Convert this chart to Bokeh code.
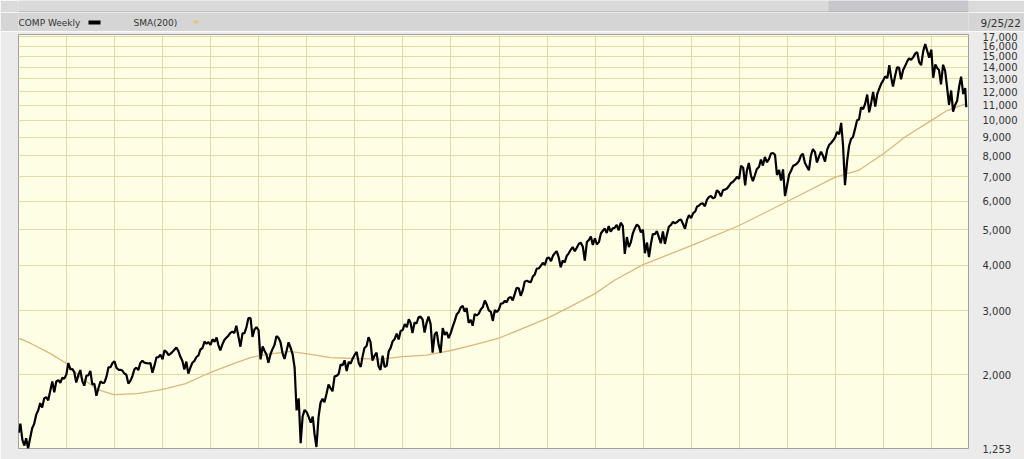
import pandas as pd
from bokeh.plotting import figure
from bokeh.layouts import column
from bokeh.models import FixedTicker, NumeralTickFormatter, Range1d
from bokeh.core.properties import value
from bokeh.embed import file_html
from bokeh.resources import INLINE

# ---------------- data ----------------
# COMP weekly, sampled twice a month: (mid-month, month-end) per month
comp_start = [1385]
comp_2003 = [1467, 1321, 1277, 1338, 1253, 1341, 1425, 1464, 1550, 1596, 1670, 1623,
             1720, 1735, 1700, 1810, 1915, 1787, 1915, 1932, 1900, 1960, 1950, 2003]
comp_2004 = [2153, 2066, 2073, 2030, 1902, 1994, 2059, 1920, 1865, 1987, 1990, 2048,
             1880, 1887, 1750, 1838, 1915, 1897, 1900, 1975, 2095, 2097, 2150, 2175]
comp_2005 = [2087, 2062, 2062, 2052, 2016, 1999, 1890, 1922, 1976, 2068, 2090, 2057,
             2153, 2185, 2157, 2152, 2146, 2152, 2025, 2120, 2232, 2233, 2270, 2205]
comp_2006 = [2333, 2306, 2262, 2281, 2306, 2340, 2375, 2323, 2243, 2179, 2065, 2172,
             2012, 2092, 2157, 2184, 2236, 2258, 2345, 2367, 2465, 2432, 2457, 2415]
comp_2007 = [2502, 2464, 2531, 2416, 2331, 2422, 2491, 2525, 2558, 2605, 2627, 2603,
             2724, 2546, 2387, 2596, 2602, 2702, 2861, 2859, 2540, 2661, 2700, 2652]
comp_2008 = [2202, 2390, 2322, 2272, 2155, 2279, 2350, 2413, 2552, 2523, 2454, 2293,
             2210, 2326, 2453, 2368, 2273, 2092, 1595, 1721, 1295, 1536, 1600, 1577]
comp_2009 = [1530, 1476, 1534, 1378, 1265, 1529, 1674, 1717, 1680, 1774, 1880, 1835,
             1800, 1979, 1985, 2009, 2133, 2122, 2190, 2045, 2167, 2145, 2212, 2269]
comp_2010 = [2308, 2147, 2100, 2238, 2368, 2398, 2535, 2461, 2185, 2257, 2300, 2109,
             2061, 2255, 2100, 2114, 2315, 2369, 2468, 2507, 2592, 2498, 2637, 2653]
comp_2011 = [2755, 2700, 2840, 2782, 2603, 2781, 2764, 2874, 2887, 2835, 2610, 2774,
             2887, 2756, 2299, 2580, 2622, 2415, 2298, 2684, 2572, 2620, 2520, 2605]
comp_2012 = [2710, 2814, 2932, 2967, 3056, 3092, 2980, 3046, 2778, 2827, 2726, 2935,
             2909, 2940, 3021, 3067, 3197, 3116, 3005, 2977, 2810, 3010, 2972, 3020]
comp_2013 = [3135, 3142, 3193, 3160, 3249, 3268, 3200, 3329, 3465, 3456, 3294, 3403,
             3600, 3626, 3602, 3590, 3722, 3772, 3915, 3920, 3985, 4060, 4001, 4177]
comp_2014 = [4197, 4104, 4244, 4308, 4371, 4199, 3946, 4115, 4072, 4243, 4310, 4408,
             4485, 4370, 4465, 4580, 4610, 4493, 4117, 4631, 4688, 4792, 4547, 4736]
comp_2015 = [4560, 4635, 4893, 4964, 5042, 4901, 5120, 4941, 5048, 5070, 5164, 4987,
             5231, 5128, 4292, 4777, 4487, 4620, 4887, 5054, 5176, 5109, 4923, 5007]
comp_2016 = [4313, 4614, 4210, 4558, 4870, 4870, 4960, 4775, 4595, 4948, 4574, 4844,
             5100, 5162, 5260, 5213, 5250, 5312, 5340, 5189, 5034, 5324, 5487, 5383]
comp_2017 = [5550, 5615, 5800, 5825, 5900, 5912, 5805, 6048, 6150, 6199, 6110, 6140,
             6420, 6348, 6180, 6429, 6450, 6496, 6600, 6728, 6780, 6874, 6994, 6903]
comp_2018 = [7505, 7411, 6630, 7273, 7637, 7063, 6806, 7066, 7350, 7442, 7806, 7510,
             7933, 7672, 7820, 8110, 8133, 8046, 7077, 7306, 6830, 7331, 6190, 6635]
comp_2019 = [7085, 7282, 7500, 7533, 7600, 7729, 8000, 8095, 7650, 7453, 7292, 8006,
             8340, 8175, 7662, 7963, 8200, 7999, 7700, 8292, 8550, 8666, 8800, 8973]
comp_2020 = [9300, 9151, 9838, 8567, 6631, 7700, 8500, 8890, 9000, 9490, 10000, 10059,
             10850, 10745, 11100, 11775, 10520, 11168, 11965, 10912, 11800, 12199, 12600, 12888]
comp_2021 = [13200, 13071, 14175, 13192, 12397, 13247, 14000, 13963, 12970, 13749, 14100, 14504,
             14800, 14673, 14900, 15259, 15403, 14449, 14181, 15498, 16212, 15538, 14860, 15645]
comp_2022 = [13094, 14240, 13900, 13751, 12555, 14220, 13700, 12335, 11035, 12081, 10565, 11029,
             11300, 12391, 13181, 11816, 12270, 10868]

# 200-week simple moving average
sma_dates = ["2003-01-01", "2003-04-01", "2003-09-01", "2004-01-01", "2004-04-15",
             "2004-08-25", "2004-12-25", "2005-06-25", "2005-12-25", "2006-06-25",
             "2007-01-01", "2007-06-25", "2007-10-30", "2008-02-20", "2008-08-25",
             "2009-01-30", "2009-07-01", "2010-01-01", "2010-07-15", "2011-01-01",
             "2011-07-01", "2012-01-01", "2012-07-01", "2013-01-01", "2013-07-01",
             "2014-01-01", "2014-07-01", "2015-01-01", "2015-06-01", "2016-01-01",
             "2017-01-01", "2018-01-01", "2019-01-01", "2020-01-01", "2020-07-01",
             "2021-01-01", "2021-06-15", "2022-01-01", "2022-05-01", "2022-09-23"]
sma_values = [2520, 2440, 2285, 2145, 1968,
              1820, 1763, 1774, 1820, 1890,
              2030, 2145, 2228, 2270, 2318,
              2275, 2227, 2215, 2205, 2241,
              2262, 2330, 2420, 2520, 2680,
              2855, 3080, 3340, 3640, 4012,
              4526, 5140, 5984, 6985, 7300,
              8098, 9000, 10000, 10640, 11120]

y_ticks = [1253, 2000, 3000, 4000, 5000, 6000, 7000, 8000, 9000, 10000,
           11000, 12000, 13000, 14000, 15000, 16000, 17000]
grid_years = list(range(2004, 2023))
legend_labels = ["COMP Weekly", "SMA(200)"]
legend_colors = ["#000000", "#e6c38c"]
date_label = "9/25/22"

# ---------------- build series ----------------
years_data = [comp_2003, comp_2004, comp_2005, comp_2006, comp_2007, comp_2008,
              comp_2009, comp_2010, comp_2011, comp_2012, comp_2013, comp_2014,
              comp_2015, comp_2016, comp_2017, comp_2018, comp_2019, comp_2020,
              comp_2021, comp_2022]
dates = [pd.Timestamp("2003-01-02")]
vals = list(comp_start)
for yr, arr in zip(range(2003, 2023), years_data):
    for i, v in enumerate(arr):
        m = i // 2 + 1
        if i % 2 == 0:
            d = pd.Timestamp(yr, m, 15)
        else:
            d = pd.Timestamp(yr, m, 1) + pd.offsets.MonthEnd(0)
        dates.append(d)
        vals.append(v)
dates[-1] = pd.Timestamp("2022-09-23")
sma_x = [pd.Timestamp(d) for d in sma_dates]

FONT = value("DejaVu Sans")
L, R = 18, 56          # left / right borders shared by all strips
W = 1024

# ---------------- top band ----------------
band = figure(width=W, height=12, x_range=Range1d(L, W - R), y_range=Range1d(12, 0),
              x_axis_location=None, y_axis_location=None, toolbar_location=None,
              output_backend="svg", title=None, min_border_left=L,
              min_border_right=R, min_border_top=0, min_border_bottom=0)
band.grid.visible = False
band.outline_line_color = None
band.background_fill_color = "#dadada"
band.border_fill_color = "#dadada"
band.quad(left=[828], right=[W], top=[0], bottom=[12], fill_color="#c7c7cc", line_color=None)
band.segment(x0=[0], y0=[11.5], x1=[W], y1=[11.5], line_color="#a6a6a6", line_width=1)

# ---------------- header bar ----------------
h = figure(width=W, height=19, x_range=Range1d(L, W - R), y_range=Range1d(31, 12),
           x_axis_location=None, y_axis_location="right", toolbar_location=None,
           output_backend="svg", title=None, min_border_left=L,
           min_border_right=R, min_border_top=0, min_border_bottom=0)
h.grid.visible = False
h.outline_line_color = None
h.background_fill_color = "#d5d5d5"
h.border_fill_color = "#d5d5d5"
h.text(x=[L, 133], y=[22, 22], text=legend_labels, text_font=FONT,
       text_font_size="9px", text_color="#333333", text_baseline="middle")
h.quad(left=[88, 193], right=[100, 198], top=[20, 20], bottom=[24, 23],
       fill_color=legend_colors, line_color=None)
hax = h.yaxis[0]
hax.ticker = FixedTicker(ticks=[22])
hax.major_label_overrides = {22: date_label}
hax.axis_line_color = None
hax.major_tick_line_color = None
hax.minor_tick_line_color = None
hax.major_tick_out = 0
hax.major_tick_in = 0
hax.minor_tick_out = 0
hax.minor_tick_in = 0
hax.major_label_standoff = 12
hax.major_label_text_font = "DejaVu Sans"
hax.major_label_text_font_size = "10.5px"
hax.major_label_text_color = "#333333"

# ---------------- main chart ----------------
x0 = pd.Timestamp("2003-01-01")
x1 = pd.Timestamp("2022-10-10")
p = figure(width=W, height=428, x_axis_type="datetime", y_axis_type="log",
           x_range=Range1d(x0, x1), y_range=Range1d(1253, 17220),
           y_axis_location="right", toolbar_location=None, output_backend="svg",
           title=None, min_border_left=L, min_border_right=R,
           min_border_top=3, min_border_bottom=11)
p.border_fill_color = "#ebebeb"
p.background_fill_color = "#fefee4"
p.outline_line_color = "#a0a0a0"
p.outline_line_width = 1

p.xaxis.visible = False
p.xgrid.ticker = FixedTicker(ticks=[pd.Timestamp(y, 1, 1).value / 1e6 for y in grid_years])
p.xgrid.grid_line_color = "#e2dba6"
p.ygrid.ticker = FixedTicker(ticks=y_ticks[1:])
p.ygrid.grid_line_color = "#e2dba6"
p.ygrid.minor_grid_line_color = None

yax = p.yaxis[0]
yax.ticker = FixedTicker(ticks=y_ticks)
yax.formatter = NumeralTickFormatter(format="0,0")
yax.axis_line_color = None
yax.major_tick_line_color = None
yax.minor_tick_line_color = None
yax.major_tick_out = 0
yax.major_tick_in = 0
yax.minor_tick_out = 0
yax.minor_tick_in = 0
yax.major_label_standoff = 14
yax.major_label_text_font = "DejaVu Sans"
yax.major_label_text_font_size = "10px"
yax.major_label_text_color = "#333333"

p.line(sma_x, sma_values, line_color="#dbb77e", line_width=1.3)
p.line(dates, vals, line_color="#000000", line_width=2.2)

layout = column(band, h, p, spacing=0)
open("out.html", "w").write(file_html(layout, INLINE))
